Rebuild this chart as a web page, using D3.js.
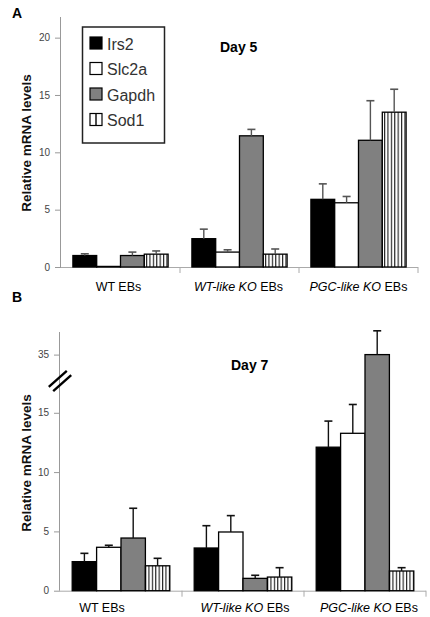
<!DOCTYPE html>
<html>
<head>
<meta charset="utf-8">
<script src="https://cdn.jsdelivr.net/npm/d3@7"></script>
<style>
  html, body { margin: 0; padding: 0; background: #fff; }
  svg { display: block; font-family: "Liberation Sans", Arial, sans-serif; }
</style>
</head>
<body>
<svg id="chart" width="430" height="617"></svg>
<script>
// ---------- data ----------
const categories = ["WT EBs", "WT-like KO EBs", "PGC-like KO EBs"];
const series = ["Irs2", "Slc2a", "Gapdh", "Sod1"];

// Day 5 means (per category) and error amounts
const day5Irs2  = [1.0, 2.47, 5.9];
const day5Slc2a = [0.05, 1.3, 5.6];
const day5Gapdh = [1.0, 11.44, 11.05];
const day5Sod1  = [1.12, 1.12, 13.5];
const day5Irs2Err  = [0.15, 0.83, 1.35];
const day5Slc2aErr = [0, 0.2, 0.55];
const day5GapdhErr = [0.3, 0.56, 3.45];
const day5Sod1Err  = [0.28, 0.45, 2.0];

// Day 7 means and error amounts
const day7Irs2  = [2.45, 3.6, 12.1];
const day7Slc2a = [3.66, 4.95, 13.27];
const day7Gapdh = [4.44, 1.04, 35];
const day7Sod1  = [2.1, 1.15, 1.66];
const day7Irs2Err  = [0.7, 1.88, 2.2];
const day7Slc2aErr = [0.17, 1.38, 2.43];
const day7GapdhErr = [2.51, 0.26, 2.0];
const day7Sod1Err  = [0.63, 0.79, 0.28];

const day5Ticks = [0, 5, 10, 15, 20];
const day7Ticks = [0, 5, 10, 15, 35];

// ---------- drawing ----------
const svg = d3.select("#chart");
const fills = { Irs2: "#000", Slc2a: "#fff", Gapdh: "#808080", Sod1: "url(#hatch)" };

const defs = svg.append("defs");
const hp = defs.append("pattern").attr("id", "hatch").attr("patternUnits", "userSpaceOnUse")
  .attr("width", 3.4).attr("height", 10);
hp.append("rect").attr("width", 3.4).attr("height", 10).attr("fill", "#fff");
hp.append("line").attr("x1", 0.6).attr("x2", 0.6).attr("y1", 0).attr("y2", 10)
  .attr("stroke", "#000").attr("stroke-width", 1);

function rows(means, errs) {
  return categories.map((c, i) => ({
    cat: c,
    vals: series.map((s, j) => ({ s, v: means[j][i], e: errs[j][i] }))
  }));
}

function panel(opts) {
  const { data, y, xRange, ticks, errColor, labelY, labelOffsets, title, titleX, titleY, yLabelCenter } = opts;
  const g = svg.append("g");
  const x0 = d3.scaleBand().domain(categories).range(xRange).paddingInner(0).paddingOuter(0);
  const x1 = d3.scaleBand().domain(series).range([0, x0.bandwidth()]).paddingInner(0).paddingOuter(0.5);
  const y0 = y(0);

  // y axis
  const ya = g.append("g").attr("transform", `translate(${xRange[0]},0)`)
    .call(d3.axisLeft(y).tickValues(ticks).tickSize(6).tickPadding(5).tickFormat(d3.format("d")));
  ya.select(".domain").attr("stroke", "#999").attr("d", `M-0.5,${y0}V${y.range()[y.range().length - 1]}`);
  ya.selectAll(".tick line").attr("stroke", "#999");
  ya.selectAll(".tick text").attr("fill", "#444").attr("font-size", 10);

  // x axis line + separators
  g.append("line").attr("x1", xRange[0]).attr("x2", xRange[1]).attr("y1", y0 + 0.5).attr("y2", y0 + 0.5)
    .attr("stroke", "#aaa");
  const seps = categories.slice(1).map(c => x0(c)).concat([xRange[1]]);
  g.selectAll(".sep").data(seps).join("line")
    .attr("x1", d => d).attr("x2", d => d).attr("y1", y0).attr("y2", y0 + 6).attr("stroke", "#aaa");

  // bars
  const grp = g.selectAll(".grp").data(data).join("g").attr("transform", d => `translate(${x0(d.cat)},0)`);
  grp.selectAll("rect").data(d => d.vals).join("rect")
    .attr("x", d => x1(d.s)).attr("width", x1.bandwidth())
    .attr("y", d => y(d.v)).attr("height", d => Math.max(0, y0 - y(d.v)))
    .attr("fill", d => fills[d.s]).attr("stroke", "#000").attr("stroke-width", 1.3);

  // error bars
  const eb = grp.selectAll(".eb").data(d => d.vals.filter(v => v.e > 0)).join("g");
  eb.append("line")
    .attr("x1", d => x1(d.s) + x1.bandwidth() / 2).attr("x2", d => x1(d.s) + x1.bandwidth() / 2)
    .attr("y1", d => y(d.v)).attr("y2", d => y(d.v + d.e))
    .attr("stroke", errColor).attr("stroke-width", 1.4);
  eb.append("line")
    .attr("x1", d => x1(d.s) + x1.bandwidth() / 2 - 4).attr("x2", d => x1(d.s) + x1.bandwidth() / 2 + 4)
    .attr("y1", d => y(d.v + d.e)).attr("y2", d => y(d.v + d.e))
    .attr("stroke", errColor).attr("stroke-width", 1.6);

  // category labels
  const lab = g.selectAll(".cl").data(categories).join("text")
    .attr("x", (d, i) => x0(d) + x0.bandwidth() / 2 + labelOffsets[i]).attr("y", labelY)
    .attr("text-anchor", "middle").attr("font-size", 12.5).attr("fill", "#000");
  lab.each(function(d) {
    const t = d3.select(this);
    const m = d.match(/^(.*-like KO) (EBs)$/);
    if (m) {
      t.append("tspan").attr("font-style", "italic").text(m[1]);
      t.append("tspan").text(" " + m[2]);
    } else {
      t.text(d);
    }
  });

  // title
  g.append("text").attr("x", titleX).attr("y", titleY).attr("font-size", 14).attr("font-weight", "bold")
    .attr("fill", "#000").text(title);

  // y label
  g.append("text").attr("transform", `translate(31,${yLabelCenter}) rotate(-90)`)
    .attr("text-anchor", "middle").attr("font-size", 13.5).attr("font-weight", "bold").attr("fill", "#111")
    .text("Relative mRNA levels");
  return g;
}

// Panel A (Day 5)
const yA = d3.scaleLinear().domain([0, 21.8]).range([267, 17]);
panel({
  data: rows([day5Irs2, day5Slc2a, day5Gapdh, day5Sod1], [day5Irs2Err, day5Slc2aErr, day5GapdhErr, day5Sod1Err]),
  y: yA, xRange: [61, 418], ticks: day5Ticks, errColor: "#555",
  labelY: 291, labelOffsets: [-2, -1, 0], title: "Day 5", titleX: 220, titleY: 52, yLabelCenter: 143
});

// Panel B (Day 7) with broken axis
const yB = d3.scaleLinear().domain([0, 18, 33.1, 36.9]).range([590.7, 377.2, 377.2, 332]);
panel({
  data: rows([day7Irs2, day7Slc2a, day7Gapdh, day7Sod1], [day7Irs2Err, day7Slc2aErr, day7GapdhErr, day7Sod1Err]),
  y: yB, xRange: [60, 426], ticks: day7Ticks, errColor: "#111",
  labelY: 612, labelOffsets: [-19, 2, 4], title: "Day 7", titleX: 231, titleY: 370, yLabelCenter: 463
});

// axis break marks
[-2.2, 2.2].forEach(o => {
  svg.append("line").attr("x1", 51 + o).attr("y1", 389 + o).attr("x2", 69 + o).attr("y2", 373 + o)
    .attr("stroke", "#000").attr("stroke-width", 2.4);
});

// legend
const leg = svg.append("g");
leg.append("rect").attr("x", 82.5).attr("y", 27).attr("width", 82).attr("height", 116)
  .attr("fill", "#fff").attr("stroke", "#222").attr("stroke-width", 1.5);
const legFill = { Irs2: "#000", Slc2a: "#fff", Gapdh: "#808080", Sod1: "#fff" };
const li = leg.selectAll(".li").data(series).join("g")
  .attr("transform", (d, i) => `translate(90,${37 + i * 25.5})`);
li.append("rect").attr("width", 12).attr("height", 12).attr("fill", d => legFill[d])
  .attr("stroke", "#000").attr("stroke-width", 1.2);
li.filter(d => d === "Sod1").append("line").attr("x1", 6).attr("x2", 6).attr("y1", 0).attr("y2", 12)
  .attr("stroke", "#000").attr("stroke-width", 1.4);
li.append("text").attr("x", 17).attr("y", 12.5).attr("font-size", 16).attr("fill", "#333").text(d => d);

// panel letters
svg.append("text").attr("x", 12).attr("y", 18).attr("font-size", 14).attr("font-weight", "bold").text("A");
svg.append("text").attr("x", 12).attr("y", 302).attr("font-size", 14).attr("font-weight", "bold").text("B");
</script>
</body>
</html>
